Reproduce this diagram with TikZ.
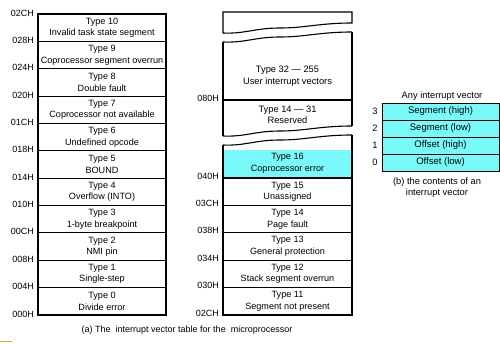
\documentclass[tikz,border=0pt]{standalone}
\usepackage{fontspec}
\setmainfont{Liberation Sans}
\definecolor{vcyan}{RGB}{120,250,250}
\definecolor{artgold}{RGB}{215,170,40}
\newcommand{\wavecurve}[1]{(223,#1) .. controls (245,#1+1) and (255,#1-5) .. (280,#1-5) .. controls (305,#1-5) and (320,#1-10) .. (352,#1-10)}
\begin{document}
\begin{tikzpicture}[x=1pt,y=-1pt,
  tbl/.style={line width=1.1pt},
  rowbox/.style={draw,line width=1.1pt,minimum width=128pt,minimum height=27.36pt,inner sep=0pt,align=center,font=\fontsize{9.1}{11.5}\selectfont},
  midbox/.style={rowbox,minimum width=129pt,minimum height=27.4pt},
  vecbox/.style={draw,line width=1pt,fill=vcyan,minimum width=117pt,minimum height=17pt,inner sep=0pt,font=\fontsize{9.5}{11}\selectfont},
  addr/.style={anchor=east,inner sep=0pt,font=\fontsize{9}{10}\selectfont},
  txt/.style={inner sep=0pt,align=center,font=\fontsize{9.3}{11.5}\selectfont}]
\useasboundingbox (0,0) rectangle (500,343);
% ---------- left table ----------
\foreach \n/\t [count=\i from 0] in {10/Invalid task state segment,9/Coprocessor segment overrun,8/Double fault,7/Coprocessor not available,6/Undefined opcode,5/BOUND,4/Overflow (INTO),3/1-byte breakpoint,2/NMI pin,1/Single-step,0/Divide error}{
  \node[rowbox] (L\n) at (102,{14+27.36*(\i+0.5)}) {Type \n\\\t};
}
\foreach \a [count=\i from 0] in {02CH,028H,024H,020H,01CH,018H,014H,010H,00CH,008H,004H,000H}{
  \node[addr] (la\i) at (34,{14+27.36*\i-1}) {\a};
}
% ---------- middle column ----------
% piece 1
\draw[tbl] \wavecurve{33} -- (352,12) -- (223,12) -- cycle;
% piece 2
\draw[tbl] \wavecurve{42};
\draw[tbl] \wavecurve{136};
\draw[tbl] (223,42) -- (223,136);
\draw[tbl] (352,32) -- (352,126);
\draw[tbl] (223,100) -- (352,100);
\node[txt] (u32) at (287.5,76) {Type 32 — 255\\User interrupt vectors};
\node[txt] (r14) at (287.5,115) {Type 14 — 31\\Reserved};
% piece 3
\node[fill=vcyan,minimum width=129pt,minimum height=28pt,inner sep=0pt] (c16) at (287.5,164) {};
\node[txt,font=\fontsize{9.1}{11.5}\selectfont] (t16) at (287.5,163.5) {Type 16\\Coprocessor error};
\draw[tbl] \wavecurve{145};
\draw[tbl] (223,145) -- (223,315);
\draw[tbl] (352,135) -- (352,315);
\foreach \n/\t [count=\i from 0] in {15/Unassigned,14/Page fault,13/General protection,12/Stack segment overrun,11/Segment not present}{
  \node[midbox] (M\n) at (287.5,{178+27.4*(\i+0.5)}) {Type \n\\\t};
}
\node[addr] (m080) at (219,98) {080H};
\foreach \a [count=\i from 0] in {040H,03CH,038H,034H,030H,02CH}{
  \node[addr] (ma\i) at (219,{178+27.4*\i-2}) {\a};
}
% ---------- right box ----------
\node[txt] (any) at (442,96) {Any interrupt vector};
\foreach \t/\k [count=\i from 0] in {Segment (high)/3,Segment (low)/2,Offset (high)/1,Offset (low)/0}{
  \node[vecbox] (V\k) at (440.5,{111.5+17*\i}) {\t};
  \node[txt,anchor=center] (vl\k) at (375,{111.5+17*\i}) {\k};
}
\node[txt] (capb) at (437,187.5) {(b) the contents of an\\interrupt vector};
% ---------- caption ----------
\node[txt,font=\fontsize{9}{11}\selectfont] (capa) at (187,330) {(a) The\ \ interrupt vector table for the\ \ microprocessor};
\fill[artgold] (0,340.5) rectangle (12,342);
\end{tikzpicture}
\end{document}
